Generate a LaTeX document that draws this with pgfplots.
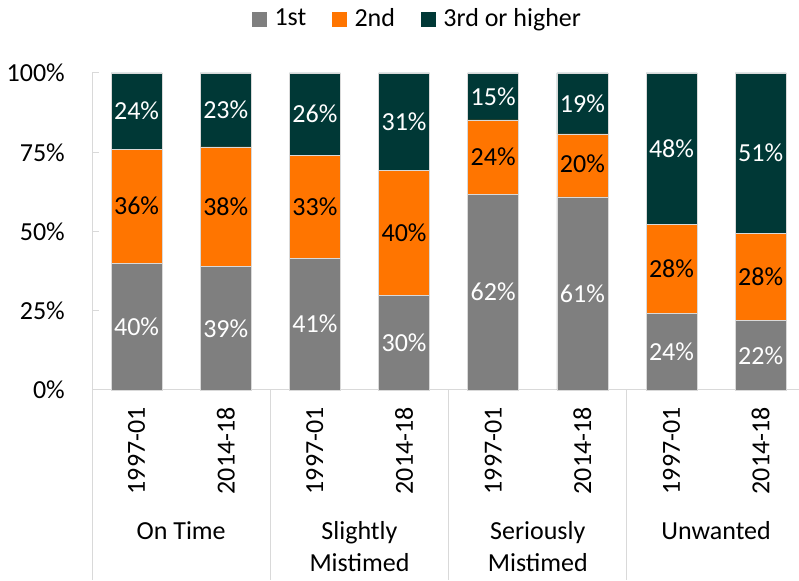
\documentclass[border=0pt]{standalone}
\usepackage{pgfplots}
\pgfplotsset{compat=1.18}
\usepackage{fontspec}
\setmainfont{Carlito}
\newcommand\fs{\fontsize{26}{31.7}\selectfont}
\definecolor{cGray}{HTML}{7F7F7F}
\definecolor{cOrange}{HTML}{FF7500}
\definecolor{cDark}{HTML}{003836}
\definecolor{cLine}{HTML}{D9D9D9}
\pgfplotsset{
  common/.style={
    scale only axis, width=707pt, height=317pt,
    xmin=-0.5, xmax=7.43, ymin=0, ymax=100,
    at={(92pt,190pt)}, anchor=south west,
  }
}
\begin{document}
\fs
\begin{tikzpicture}
\begin{axis}[common,
  ybar stacked, bar width=51pt,
  clip=false,
  axis lines*=left,
  axis line style={draw=cLine, line width=1pt},
  xtick={0,1,2,3,4,5,6,7},
  xticklabels={1997-01,2014-18,1997-01,2014-18,1997-01,2014-18,1997-01,2014-18},
  xtick style={draw=none},
  xticklabel style={font=\fs, yshift=-17pt, rotate=90, anchor=east, inner sep=0pt},
  ytick={0,25,50,75,100},
  yticklabel={\pgfmathprintnumber{\tick}\%},
  yticklabel style={font=\fs, inner sep=0pt, xshift=-27pt},
  /pgf/number format/assume math mode=true,
  ytick style={draw=cLine, line width=1pt},
  tick align=inside, major tick length=7pt, ytick pos=left,
  legend columns=3,
  legend style={at={(0.2263,1.1703)}, anchor=west, draw=none, fill=none,
    font=\fs, inner sep=0pt, nodes={inner xsep=0pt, inner ysep=2pt},
    /tikz/every even column/.append style={column sep=26pt}},
  legend image code/.code={\fill[#1,draw=none] (0pt,-7.5pt) rectangle (15pt,7.5pt); \path (22pt,0pt);},
]
\addplot[fill=cGray, draw=cLine, line width=0.6pt] coordinates {(0,40.0) (1,38.9) (2,41.6) (3,29.9) (4,61.7) (5,60.9) (6,24.2) (7,21.9)};
\addplot[fill=cOrange, draw=cLine, line width=0.6pt] coordinates {(0,36.0) (1,37.8) (2,32.4) (3,39.4) (4,23.5) (5,19.9) (6,28.1) (7,27.5)};
\addplot[fill=cDark, draw=cLine, line width=0.6pt] coordinates {(0,24.0) (1,23.3) (2,26.0) (3,30.7) (4,14.8) (5,19.2) (6,47.7) (7,50.6)};
\legend{1st,2nd,3rd or higher}
\foreach \s in {-0.5,1.5,3.5,5.5}{
  \edef\tmp{\noexpand\draw[cLine, line width=1pt] (axis cs:\s,0) -- ([yshift=-190pt]axis cs:\s,0);}\tmp
}
\node[font=\fs, anchor=base] at ([yshift=-149pt]axis cs:0.5,0) {On Time};
\node[font=\fs, anchor=base] at ([yshift=-149pt]axis cs:2.5,0) {Slightly};
\node[font=\fs, anchor=base] at ([yshift=-181pt]axis cs:2.5,0) {Mistimed};
\node[font=\fs, anchor=base] at ([yshift=-149pt]axis cs:4.5,0) {Seriously};
\node[font=\fs, anchor=base] at ([yshift=-181pt]axis cs:4.5,0) {Mistimed};
\node[font=\fs, anchor=base] at ([yshift=-149pt]axis cs:6.5,0) {Unwanted};
\end{axis}
\begin{axis}[common, hide axis, clip=false]
\addplot[draw=none, mark=none, nodes near coords, point meta=explicit symbolic,
  nodes near coords style={anchor=center, font=\fs, text=white, inner sep=0pt}]
  table[meta=label] {
x y label
0 20.00 40\%
1 19.45 39\%
2 20.80 41\%
3 14.95 30\%
4 30.85 62\%
5 30.45 61\%
6 12.10 24\%
7 10.95 22\%
};
\addplot[draw=none, mark=none, nodes near coords, point meta=explicit symbolic,
  nodes near coords style={anchor=center, font=\fs, text=black, inner sep=0pt}]
  table[meta=label] {
x y label
0 58.00 36\%
1 57.75 38\%
2 57.80 33\%
3 49.55 40\%
4 73.45 24\%
5 71.35 20\%
6 38.25 28\%
7 35.65 28\%
};
\addplot[draw=none, mark=none, nodes near coords, point meta=explicit symbolic,
  nodes near coords style={anchor=center, font=\fs, text=white, inner sep=0pt}]
  table[meta=label] {
x y label
0 88.00 24\%
1 88.35 23\%
2 87.00 26\%
3 84.65 31\%
4 92.60 15\%
5 90.40 19\%
6 76.15 48\%
7 74.70 51\%
};
\end{axis}
\pgfresetboundingbox
\path[use as bounding box] (0,0) rectangle (799pt,580pt);
\end{tikzpicture}
\end{document}
